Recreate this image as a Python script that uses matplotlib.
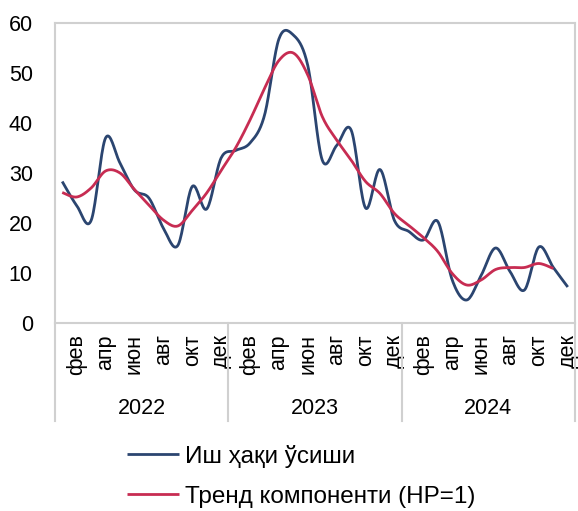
import matplotlib.pyplot as plt
import matplotlib.transforms as mtransforms
import numpy as np

plt.rcParams['font.family'] = ['Liberation Sans', 'DejaVu Sans']

# monthly data, jan 2022 .. dec 2024
wage = [28.3, 23.5, 20.5, 37.0, 32.0, 26.6, 25.0, 19.0, 15.5, 27.3, 22.8, 33.0,
        34.5, 36.0, 41.5, 56.8, 57.6, 51.5, 32.6, 35.5, 38.6, 23.0, 30.7, 20.5,
        18.3, 16.6, 20.3, 8.6, 4.6, 9.5, 15.0, 10.3, 6.6, 15.2, 11.1, 7.2]
trend = [26.1, 25.2, 27.0, 30.4, 30.0, 26.7, 23.6, 20.6, 19.4, 22.5, 26.0, 30.5,
         35.0, 40.6, 46.9, 52.5, 54.0, 49.6, 41.3, 36.6, 32.6, 28.3, 25.9, 21.9,
         19.5, 17.1, 14.3, 9.9, 7.6, 8.6, 10.7, 11.1, 11.1, 11.9, 10.9]
month_labels = ["фев", "апр", "июн", "авг", "окт", "дек"]
years = ["2022", "2023", "2024"]
wage_name = "Иш ҳақи ўсиши"
trend_name = "Тренд компоненти (HP=1)"


def smooth(y, steps=20):
    # excel-like smoothed line (catmull-rom through the points)
    y = np.asarray(y, dtype=float)
    x = np.arange(len(y), dtype=float)
    xs, ys = [], []
    for i in range(len(y) - 1):
        i0 = max(i - 1, 0)
        i3 = min(i + 2, len(y) - 1)
        p0 = np.array([x[i0], y[i0]])
        p1 = np.array([x[i], y[i]])
        p2 = np.array([x[i + 1], y[i + 1]])
        p3 = np.array([x[i3], y[i3]])
        c1 = p1 + (p2 - p0) / 6
        c2 = p2 - (p3 - p1) / 6
        t = np.linspace(0, 1, steps)[:, None]
        pts = (1 - t) ** 3 * p1 + 3 * (1 - t) ** 2 * t * c1 + 3 * (1 - t) * t ** 2 * c2 + t ** 3 * p2
        xs.extend(pts[:, 0])
        ys.extend(pts[:, 1])
    return np.array(xs), np.array(ys)


fig = plt.figure(figsize=(5.78, 5.11), dpi=100)
ax = fig.add_axes([55 / 578, 1 - 323 / 511, 520 / 578, 300 / 511])

xw, yw = smooth(wage)
xt, yt = smooth(trend)
ax.plot(xw, yw, color="#2b4570", lw=2.0, label=wage_name, solid_capstyle="butt")
ax.plot(xt, yt, color="#c72c52", lw=2.0, label=trend_name, solid_capstyle="butt")

ax.set_xlim(-0.5, 35.5)
ax.set_ylim(0, 60)
ax.set_yticks(range(0, 61, 10))
ax.tick_params(axis="y", length=0, pad=16, labelsize=15.5)

ticks = list(range(1, 36, 2))
ax.set_xticks(ticks)
ax.set_xticklabels(month_labels * 3, rotation=90, fontsize=15.5, va="top")
ax.tick_params(axis="x", length=0, pad=8)

for s in ax.spines.values():
    s.set_color("#d0d0d0")
    s.set_linewidth(1.5)

# year grouping below the month labels
trans = mtransforms.blended_transform_factory(ax.transData, ax.transAxes)
for k in range(4):
    ax.plot([12 * k - 0.5, 12 * k - 0.5], [0, -0.325], color="#d0d0d0", lw=1.5,
            transform=trans, clip_on=False)
for k, yr in enumerate(years):
    ax.text(12 * k + 5.5, -0.285, yr, transform=trans, ha="center", va="center", fontsize=15.5)

ax.legend(loc="upper left", bbox_to_anchor=(127 / 578, 1 - 445 / 511),
          bbox_transform=fig.transFigure, frameon=False, fontsize=17.5,
          handlelength=2.15, handletextpad=0.25, labelspacing=0.72, borderaxespad=0,
          borderpad=0)

fig.savefig("out.png", dpi=100)
